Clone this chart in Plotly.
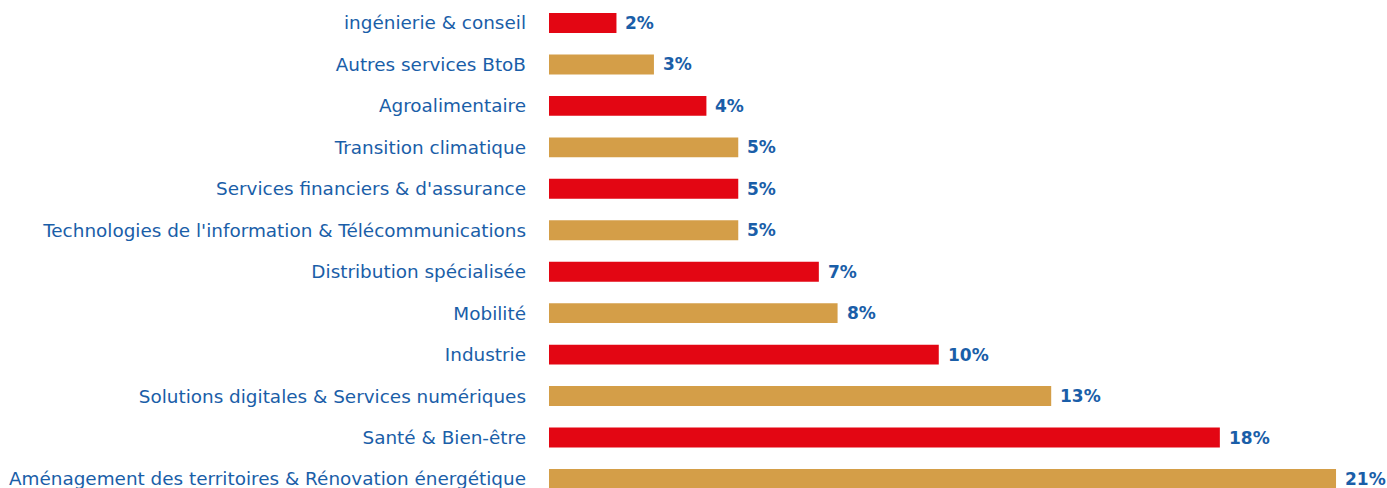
import plotly.graph_objects as go

categories = [
    "ingénierie & conseil",
    "Autres services BtoB",
    "Agroalimentaire",
    "Transition climatique",
    "Services financiers & d'assurance",
    "Technologies de l'information & Télécommunications",
    "Distribution spécialisée",
    "Mobilité",
    "Industrie",
    "Solutions digitales & Services numériques",
    "Santé & Bien-être",
    "Aménagement des territoires & Rénovation énergétique",
]
values = [1.8, 2.8, 4.2, 5.05, 5.05, 5.05, 7.2, 7.7, 10.4, 13.4, 17.9, 21.0]
labels = ["2%", "3%", "4%", "5%", "5%", "5%", "7%", "8%", "10%", "13%", "18%", "21%"]

RED = "#E30613"
GOLD = "#D49E48"
BLUE = "#1A5EA8"
colors = [RED if i % 2 == 0 else GOLD for i in range(len(categories))]

fig = go.Figure(
    go.Bar(
        x=values,
        y=categories,
        orientation="h",
        marker=dict(color=colors, line=dict(width=0)),
        width=0.48,
        hoverinfo="skip",
    )
)

for c, v, t in zip(categories, values, labels):
    fig.add_annotation(
        x=v, y=c, text=f"<b>{t}</b>", showarrow=False,
        xanchor="left", yanchor="middle", xshift=7,
        font=dict(family="DejaVu Sans", size=17, color=BLUE),
    )

fig.update_layout(
    width=1387, height=488,
    margin=dict(l=549, r=0, t=0, b=0),
    paper_bgcolor="white", plot_bgcolor="white",
    showlegend=False,
    font=dict(family="DejaVu Sans", size=18.4, color=BLUE),
)
fig.update_xaxes(range=[0, 22.36], visible=False, showgrid=False, zeroline=False)
fig.update_yaxes(
    type="category", range=[11.218, -0.555],
    showgrid=False, zeroline=False, showline=False, ticks="",
    ticklabelstandoff=22,
    tickfont=dict(family="DejaVu Sans", size=18.4, color=BLUE),
)

fig.write_html(
    "out.html",
    config={"displayModeBar": False},
    post_script="document.body.style.margin='0';document.body.style.overflow='hidden';",
)
